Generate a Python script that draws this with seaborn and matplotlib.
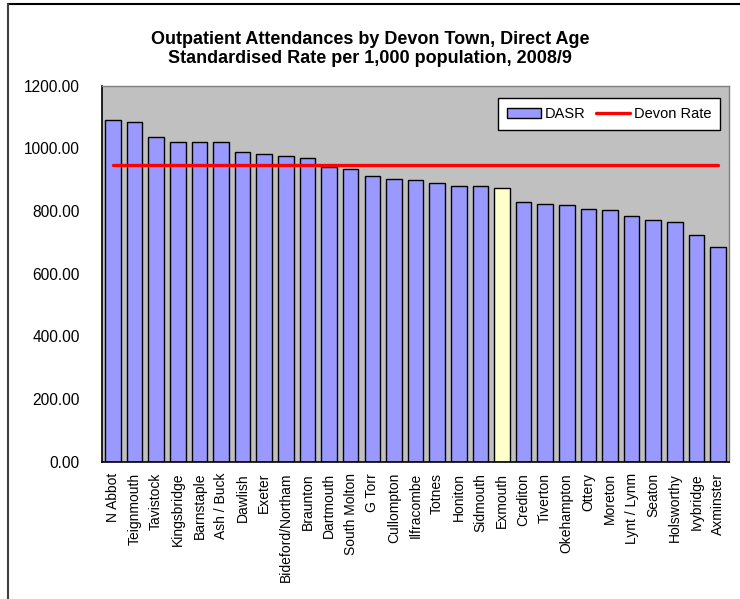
import matplotlib
matplotlib.use("Agg")
import matplotlib.pyplot as plt
from matplotlib.lines import Line2D
from matplotlib.patches import Patch
import pandas as pd
import seaborn as sns

towns = [
    "N Abbot", "Teignmouth", "Tavistock", "Kingsbridge", "Barnstaple",
    "Ash / Buck", "Dawlish", "Exeter", "Bideford/Northam", "Braunton",
    "Dartmouth", "South Molton", "G Torr", "Cullompton", "Ilfracombe",
    "Totnes", "Honiton", "Sidmouth", "Exmouth", "Crediton", "Tiverton",
    "Okehampton", "Ottery", "Moreton", "Lynt / Lynm", "Seaton",
    "Holsworthy", "Ivybridge", "Axminster",
]
dasr = [
    1089, 1084, 1036, 1020, 1020, 1020, 987, 983, 975, 970,
    941, 934, 913, 902, 898, 889, 881, 881, 872, 828, 823,
    819, 808, 802, 783, 770, 766, 722, 684,
]
devon_rate = 948
highlight = "Exmouth"

BAR = "#9999FF"
HIGHLIGHT = "#FFFFCC"
PLOT_BG = "#C0C0C0"

sns.set_style("white")
plt.rcParams["font.family"] = ["Liberation Sans", "DejaVu Sans"]
plt.rcParams.update({"text.color": "black", "xtick.color": "black",
                     "ytick.color": "black", "axes.labelcolor": "black"})

df = pd.DataFrame({"town": towns, "dasr": dasr})
colors = [HIGHLIGHT if t == highlight else BAR for t in towns]

fig = plt.figure(figsize=(7.4, 5.99), dpi=100)
ax = fig.add_axes([0.138, 0.229, 0.847, 0.628])
ax.set_facecolor(PLOT_BG)

sns.barplot(data=df, x="town", y="dasr", hue="town", palette=colors,
            legend=False, width=0.72, edgecolor="black", linewidth=1.0,
            saturation=1, ax=ax)
ax.plot(towns, [devon_rate] * len(towns), color="#FF0000", linewidth=2.4)

n = len(towns)
ax.set_xlim(-0.5, n - 0.5)
ax.set_ylim(0, 1200)
ax.set_yticks(range(0, 1201, 200))
ax.set_yticklabels([f"{v:.2f}" for v in range(0, 1201, 200)], fontsize=11.2)
ax.set_xticks(range(n))
ax.set_xticklabels(towns, rotation=90, fontsize=10)
ax.tick_params(axis="x", length=0, pad=8)
ax.set_xticks([i - 0.5 for i in range(n + 1)], minor=True)
ax.tick_params(axis="x", which="minor", length=5, direction="inout", width=1)
ax.tick_params(axis="y", length=8.5, direction="inout", width=1, pad=12)
ax.set_xlabel("")
ax.set_ylabel("")

for side in ["top", "right"]:
    ax.spines[side].set_color("#808080")
    ax.spines[side].set_linewidth(1)
for side in ["left", "bottom"]:
    ax.spines[side].set_color("black")
    ax.spines[side].set_linewidth(1.2)

handles = [
    Patch(facecolor=BAR, edgecolor="black", label="DASR"),
    Line2D([0], [0], color="#FF0000", linewidth=2.4, label="Devon Rate"),
]
leg = ax.legend(handles=handles, loc="upper right", ncol=2, fontsize=10.5,
                frameon=True, fancybox=False, framealpha=1,
                bbox_to_anchor=(0.986, 0.966), borderaxespad=0,
                handlelength=2.3, handleheight=0.6, handletextpad=0.3,
                columnspacing=0.7, borderpad=0.6)
leg.get_frame().set_edgecolor("black")
leg.get_frame().set_linewidth(1)

fig.text(0.5, 0.918, "Outpatient Attendances by Devon Town, Direct Age\n"
         "Standardised Rate per 1,000 population, 2008/9",
         ha="center", va="center", fontsize=13, fontweight="bold",
         linespacing=1.15)

# chart frame (only the top and left edges are visible in the original)
fig.add_artist(Line2D([0.011, 1.0], [0.993, 0.993], color="black", linewidth=1.5))
fig.add_artist(Line2D([0.011, 0.011], [0.0, 0.993], color="#404040", linewidth=1.5))

fig.savefig("out.png", dpi=100)
